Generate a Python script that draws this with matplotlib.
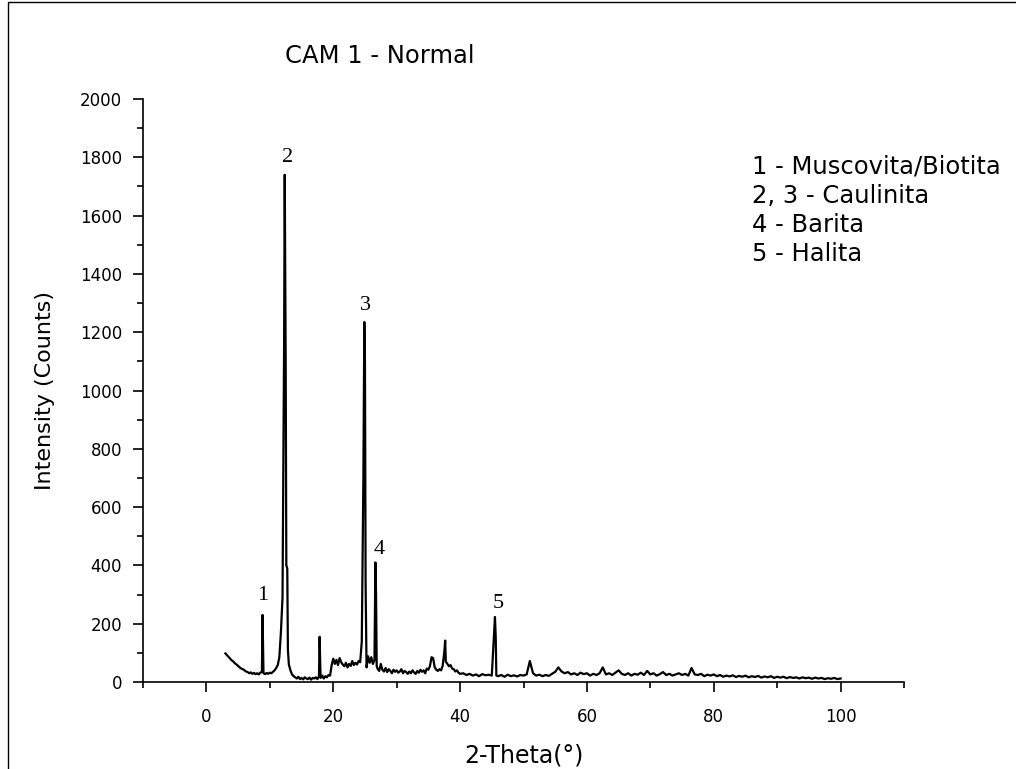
import numpy as np
import matplotlib
matplotlib.use("Agg")
from matplotlib import pyplot as plt
from matplotlib.patches import Rectangle

plt.rcParams['font.family'] = ['DejaVu Sans']

# background scan, 3-40 deg every 0.25 deg (counts)
scan_lo_theta = np.arange(3.0, 40.001, 0.25)
scan_lo_counts = [
    98, 92, 86, 80,   74, 70, 64, 60,   55, 50, 46, 44,   40, 36, 34, 30,
    33, 28, 31, 27,   30, 26, 32, 35,   30, 27, 31, 28,   32, 30, 35, 40,
    48, 58, 85, 172,  290, 1160, 1100, 390,  60, 40, 26, 20,  16, 12, 18, 10,
    14, 9, 16, 12,    10, 15, 8, 14,    12, 16, 10, 20,   14, 22, 12, 20,
    16, 24, 22, 58,   80, 62, 76, 58,   82, 68, 60, 54,   66, 50, 62, 55,
    72, 58, 66, 60,   72, 68, 140, 700, 1100, 50, 88, 66, 85, 62, 75, 300,
    45, 38, 62, 42,   36, 48, 34, 44,   38, 30, 42, 35,   40, 32, 36, 44,
    30, 38, 34, 28,   36, 30, 40, 33,   28, 38, 32, 42,   35, 40, 30, 46,
    42, 55, 85, 82,   50, 42, 38, 44,   40, 55, 100, 70,  62, 54, 58, 46,
    44, 36, 40, 32,   28,
]

# background scan, 40.5-100 deg every 0.5 deg
scan_hi_theta = np.arange(40.5, 100.001, 0.5)
scan_hi_counts = [
    30, 24, 28, 22, 26, 20, 27, 23, 25, 22,
    223, 20, 24, 18, 25, 20, 23, 19, 24, 22,
    26, 72, 30, 22, 25, 20, 24, 21, 28, 35,
    50, 36, 30, 34, 26, 30, 24, 32, 27, 30,
    22, 28, 24, 30, 50, 26, 30, 24, 32, 40,
    28, 24, 30, 22, 28, 25, 32, 24, 38, 26,
    30, 22, 27, 34, 24, 28, 22, 26, 30, 24,
    28, 22, 48, 26, 24, 28, 20, 25, 22, 26,
    20, 24, 18, 22, 19, 23, 17, 21, 18, 22,
    16, 20, 17, 21, 15, 19, 16, 20, 14, 18,
    15, 18, 13, 17, 14, 16, 12, 16, 13, 15,
    11, 15, 12, 14, 10, 13, 11, 14, 10, 12,
]

# extra points on the sharp reflections
peak_theta = [8.85, 12.35, 12.6, 12.85, 17.85, 24.9, 25.1, 26.65, 26.85, 37.65, 45.62, 45.72]
peak_counts = [230, 1740, 400, 110, 155, 1235, 344, 410, 55, 142, 155, 22]

# peak numbers
label_text = ['1', '2', '3', '4', '5']
label_x = [8.8, 12.8, 25.1, 27.2, 46.0]
label_y = [298, 1798, 1290, 453, 270]

phases = ['1 - Muscovita/Biotita', '2, 3 - Caulinita', '4 - Barita', '5 - Halita']

theta = np.concatenate([scan_lo_theta, scan_hi_theta, peak_theta])
counts = np.concatenate([scan_lo_counts, scan_hi_counts, peak_counts])
order = np.argsort(theta, kind='stable')
theta, counts = theta[order], counts[order]

W, H = 1016, 769
fig = plt.figure(figsize=(W / 100, H / 100), dpi=100)
ax = fig.add_axes([143 / W, 1 - 682 / H, (904 - 143) / W, (682 - 99) / H])

ax.plot(theta, counts, color='black', lw=1.6)

ax.set_xlim(-10, 110)
ax.set_ylim(0, 2000)
ax.set_xticks(range(0, 101, 20))
ax.set_xticks(range(-10, 111, 20), minor=True)
ax.set_yticks(range(0, 2001, 200))
ax.set_yticks(range(100, 2000, 200), minor=True)
ax.tick_params(which='major', direction='out', length=7, width=1.2, labelsize=12, pad=8)
ax.tick_params(axis='x', which='major', pad=12)
ax.tick_params(which='minor', direction='out', length=4, width=1.2)
for s in ['top', 'right']:
    ax.spines[s].set_visible(False)
for s in ['left', 'bottom']:
    ax.spines[s].set_linewidth(1.2)

ax.set_xlabel('2-Theta(°)', fontsize=17)
ax.xaxis.set_label_coords(0.5, -(755 - 682) / (682 - 99))
ax.set_ylabel('Intensity (Counts)', fontsize=16)
ax.yaxis.set_label_coords(-(143 - 45) / (904 - 143), 0.5)
ax.yaxis.label.set_va('center')
ax.xaxis.label.set_va('center')

for t, x, y in zip(label_text, label_x, label_y):
    ax.text(x, y, t, ha='center', va='center', fontsize=16, family='Liberation Serif')

fig.text(285 / W, 1 - 56 / H, 'CAM 1 - Normal', fontsize=17.5, ha='left', va='center')
for i, p in enumerate(phases):
    fig.text(752 / W, 1 - (167 + 29 * i) / H, p, fontsize=17.5, ha='left', va='center')

fig.patches.append(Rectangle((8 / W, -0.05), 1.2, 1.05 - 1.5 / H, transform=fig.transFigure,
                             fill=False, lw=1, edgecolor='black'))

fig.savefig('out.png', dpi=100)
